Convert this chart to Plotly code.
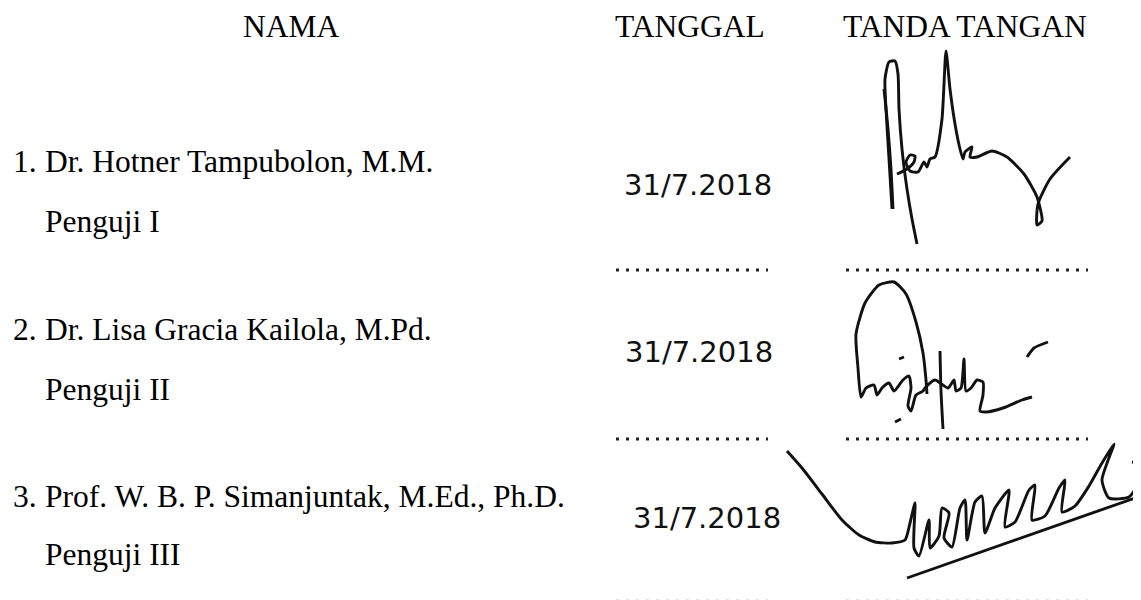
import plotly.graph_objects as go

# ---- text content ----
headers = ["NAMA", "TANGGAL", "TANDA TANGAN"]
header_x = [283, 682, 957]
header_y = [18, 18, 18]

numbers = ["1.", "2.", "3."]
names = ["Dr. Hotner Tampubolon, M.M.",
         "Dr. Lisa Gracia Kailola, M.Pd.",
         "Prof. W. B. P. Simanjuntak, M.Ed., Ph.D."]
roles = ["Penguji I", "Penguji II", "Penguji III"]
name_y = [153, 321, 488]
role_y = [213, 381, 546]

dates = ["31/7.2018", "31/7.2018", "31/7.2018"]
date_x = [690, 691, 699]
date_y = [177, 344, 510]

# dotted leaders (start x, end x, y)
date_dots_x0 = [608, 608, 608]
date_dots_x1 = [760, 760, 760]
sign_dots_x0 = [838, 838, 838]
sign_dots_x1 = [1080, 1080, 1080]
dots_y = [262, 431, 593]

# ---- signature strokes (hand-drawn shapes) ----
sig1 = [
    [(884, 201), (881, 151), (878, 101), (877, 71), (881, 54), (887, 53), (890, 66),
     (891, 101), (894, 141), (899, 181), (904, 211), (909, 236)],
    [(876, 81), (880, 121), (883, 161), (885, 201)],
    [(889, 166), (899, 161), (906, 154), (907, 148), (902, 147), (898, 154), (902, 163),
     (910, 164), (916, 154), (919, 159), (922, 151), (927, 149), (934, 111), (938, 43),
     (942, 81), (947, 116), (952, 141), (955, 151), (957, 144), (964, 139), (962, 149),
     (969, 149), (984, 143), (999, 149), (1016, 166), (1029, 189), (1034, 213),
     (1029, 217), (1030, 196), (1042, 171), (1062, 149)],
]
sig2 = [
    [(919, 386), (918, 372), (915, 345), (908, 314), (898, 286), (886, 274), (871, 277),
     (857, 295), (848, 326), (850, 360), (853, 389), (858, 380), (866, 377), (869, 387),
     (874, 380), (881, 375), (886, 383), (895, 372), (901, 368), (903, 380), (900, 398),
     (903, 403), (908, 387), (915, 383), (917, 380), (927, 372), (940, 380), (946, 372),
     (948, 383), (953, 380), (956, 351), (958, 383), (963, 380), (969, 372), (975, 374),
     (975, 387), (972, 403), (978, 404), (995, 400), (1014, 392), (1024, 389)],
    [(932, 343), (933, 383), (935, 421)],
    [(1019, 349), (1026, 340), (1040, 334)],
    [(891, 351), (896, 349)],
    [(887, 414), (893, 411)],
]
sig3 = [
    [(779, 443), (794, 460), (814, 486), (834, 512), (851, 527), (867, 534), (884, 535),
     (897, 532), (902, 515), (907, 495), (906, 540), (911, 548), (921, 512), (922, 540),
     (931, 528), (934, 500), (941, 505), (936, 530), (944, 539), (952, 500), (957, 492),
     (959, 532), (967, 494), (974, 488), (977, 525), (987, 500), (1001, 482), (997, 519),
     (1007, 514), (1021, 482), (1027, 477), (1024, 512), (1037, 508), (1051, 480),
     (1057, 472), (1054, 504), (1067, 498), (1081, 478), (1094, 455), (1106, 436),
     (1094, 472), (1101, 490), (1121, 489), (1132, 472), (1131, 456), (1124, 454)],
    [(899, 570), (1127, 490)],
]

FONT = "Liberation Serif, Times New Roman, serif"
INK = "#111111"

fig = go.Figure()

# dotted leaders
for i in range(3):
    for x0, x1 in ((date_dots_x0[i], date_dots_x1[i]), (sign_dots_x0[i], sign_dots_x1[i])):
        fig.add_trace(go.Scatter(
            x=[x0, x1], y=[dots_y[i], dots_y[i]], mode="lines",
            line=dict(color="#222222" if i < 2 else "#c4c4c4", width=3, dash="3px,7px"),
            hoverinfo="skip", showlegend=False))

# signatures
for strokes in (sig1, sig2, sig3):
    for s in strokes:
        fig.add_trace(go.Scatter(
            x=[p[0] for p in s], y=[p[1] for p in s], mode="lines",
            line=dict(color=INK, width=2.9, shape="spline", smoothing=0.6),
            hoverinfo="skip", showlegend=False))

ann = []
for t, x, y in zip(headers, header_x, header_y):
    ann.append(dict(text=t, x=x, y=y, xanchor="center", yanchor="middle",
                    font=dict(family=FONT, size=31.5, color="#000000")))
for n, nm, r, ny, ry in zip(numbers, names, roles, name_y, role_y):
    ann.append(dict(text=n, x=3, y=ny, xanchor="left", yanchor="middle",
                    font=dict(family=FONT, size=31.5, color="#000000")))
    ann.append(dict(text=nm, x=35, y=ny, xanchor="left", yanchor="middle",
                    font=dict(family=FONT, size=31.5, color="#000000")))
    ann.append(dict(text=r, x=35, y=ry, xanchor="left", yanchor="middle",
                    font=dict(family=FONT, size=31.5, color="#000000")))
for d, x, y in zip(dates, date_x, date_y):
    ann.append(dict(text=d, x=x, y=y, xanchor="center", yanchor="middle",
                    font=dict(family="DejaVu Sans", size=29, color=INK)))
for a in ann:
    a.update(xref="x", yref="y", showarrow=False)

fig.update_layout(
    width=1141, height=600,
    margin=dict(l=0, r=0, t=0, b=0),
    paper_bgcolor="white", plot_bgcolor="white",
    xaxis=dict(range=[0, 1141], visible=False, fixedrange=True),
    yaxis=dict(range=[600, 0], visible=False, fixedrange=True),
    annotations=ann,
    showlegend=False,
)

fig.write_html("out.html", config={"displayModeBar": False})
